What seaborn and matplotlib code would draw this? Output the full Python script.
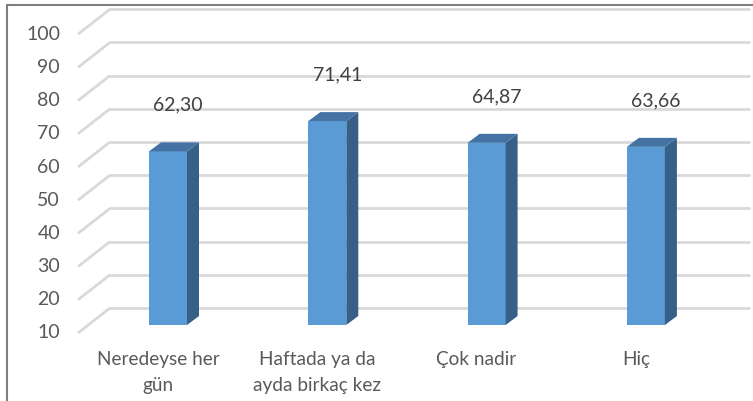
import matplotlib
matplotlib.use("Agg")
import matplotlib.pyplot as plt
import matplotlib.transforms as mtransforms
from matplotlib.patches import Polygon
from matplotlib.lines import Line2D
import seaborn as sns

categories = ["Neredeyse her\ngün", "Haftada ya da\nayda birkaç kez", "Çok nadir", "Hiç"]
values = [62.30, 71.41, 64.87, 63.66]
yticks = [10, 20, 30, 40, 50, 60, 70, 80, 90, 100]

sns.set_theme(style="white")
plt.rcParams["font.family"] = ["Lato", "DejaVu Sans"]

W, H = 753, 401
fig = plt.figure(figsize=(W / 100, H / 100), dpi=100)

x0_px, step_px = 168, 159.3          # centre of first bar front, spacing
ppu = 3.32                           # pixels per value unit
base_py = 325                        # bar plane, value 10
left_px, right_px, top_px = 78, 749, 5


def xd(px):
    return (px - x0_px) / step_px


ax = fig.add_axes([left_px / W, 1 - base_py / H, (right_px - left_px) / W, (base_py - top_px) / H])
sns.barplot(x=categories, y=values, color="#5b9bd5", saturation=1, width=38 / step_px,
            linewidth=0, ax=ax, zorder=3)
ax.set_xlim(xd(left_px), xd(right_px))
ax.set_ylim(10, 10 + (base_py - top_px) / ppu)
for s in ax.spines.values():
    s.set_visible(False)
ax.set_yticks([])
ax.set_ylabel("")

grid_c = "#d9d9d9"
back_dy = 17 / ppu       # back wall offset from bar plane
front_dy = -8 / ppu      # front edge offset
for v in yticks:
    ax.plot([xd(110), xd(right_px)], [v + back_dy, v + back_dy], color=grid_c, lw=2,
            clip_on=False, zorder=1)
    ax.plot([xd(left_px), xd(110)], [v + front_dy, v + back_dy], color=grid_c, lw=2,
            clip_on=False, zorder=1, solid_capstyle="butt")
    ax.text(xd(60), v + front_dy, str(v), ha="right", va="center", fontsize=14,
            color="#595959", clip_on=False)

# 3d faces for the bars
dx, dy = 12 / step_px, 9 / ppu
for p in ax.patches:
    x, w, top = p.get_x(), p.get_width(), p.get_height()
    side = Polygon([(x + w, 10), (x + w, top), (x + w + dx, top + dy), (x + w + dx, 10 + dy)],
                   closed=True, facecolor="#376089", edgecolor="none", zorder=3, clip_on=False)
    cap = Polygon([(x, top), (x + w, top), (x + w + dx, top + dy), (x + dx, top + dy)],
                  closed=True, facecolor="#4473a3", edgecolor="none", zorder=3, clip_on=False)
    ax.add_patch(side)
    ax.add_patch(cap)
    ax.text(x + w / 2 + 10 / step_px, top + 46 / ppu, f"{top:.2f}".replace(".", ","),
            ha="center", va="center", fontsize=14, color="#404040", clip_on=False)

ax.set_xticks(range(len(categories)))
ax.set_xticklabels(categories, fontsize=13.7, color="#595959", linespacing=1.6)
ax.tick_params(axis="x", length=0, pad=19)
shift = mtransforms.ScaledTranslation(-10 / 100, 0, fig.dpi_scale_trans)
for lab in ax.get_xticklabels():
    lab.set_transform(lab.get_transform() + shift)

# chart frame (left and top edges visible)
fig.add_artist(Line2D([7 / W, 7 / W], [0, 1 - 5 / H], color="#7f7f7f", lw=1.5))
fig.add_artist(Line2D([7 / W, 1], [1 - 5 / H, 1 - 5 / H], color="#7f7f7f", lw=1.5))

fig.savefig("out.png", dpi=100)
